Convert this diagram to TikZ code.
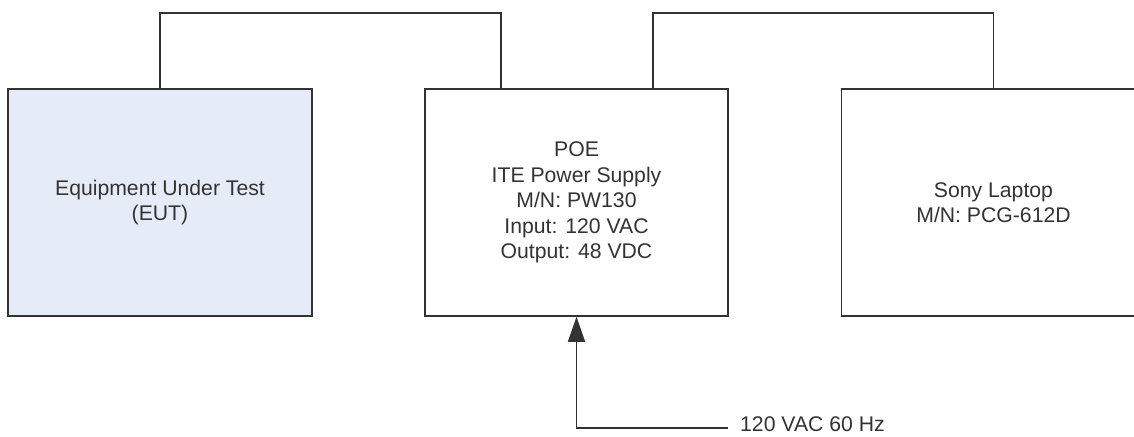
\documentclass[tikz,border=0pt]{standalone}
\usepackage{fontspec}
\setmainfont{Liberation Sans}
\usetikzlibrary{arrows.meta}
\definecolor{eutfill}{HTML}{E6ECF7}
\definecolor{linegray}{HTML}{333333}
\begin{document}
\begin{tikzpicture}[x=1bp,y=-1bp,
  every node/.style={font=\fontsize{21.2bp}{25.5bp}\selectfont, text=linegray},
  unit/.style={draw=linegray, line width=1.5bp, minimum width=304bp, minimum height=227bp, align=center, inner sep=0},
  wire/.style={draw=linegray, line width=1.5bp},
  feed/.style={wire, -{Triangle[width=17bp,length=25bp]}}]
\useasboundingbox (0,0) rectangle (1134,437);
\clip (0,0) rectangle (1134,437);
\node[unit, fill=eutfill] (eut) at (160,202.5) {Equipment Under Test\\(EUT)};
\node[unit, fill=white, minimum width=303bp] (poe) at (576.5,202.5) {POE\\ITE Power Supply\\M/N: PW130\\Input: 120 VAC\\Output: 48 VDC};
\node[unit, fill=white] (lap) at (993.5,202.5) {Sony Laptop\\M/N: PCG-612D};
\draw[wire] (eut.north) |- (501,13) -- (poe.north -| 501,0);
\draw[wire] (poe.north -| 653,0) |- (lap.north |- 0,13) -- (lap.north);
\node[anchor=base west, inner sep=0] (lbl) at (740,432) {120 VAC 60 Hz};
\coordinate (src) at (728,428);
\draw[feed] (src) -| (poe.south);
\end{tikzpicture}
\end{document}
